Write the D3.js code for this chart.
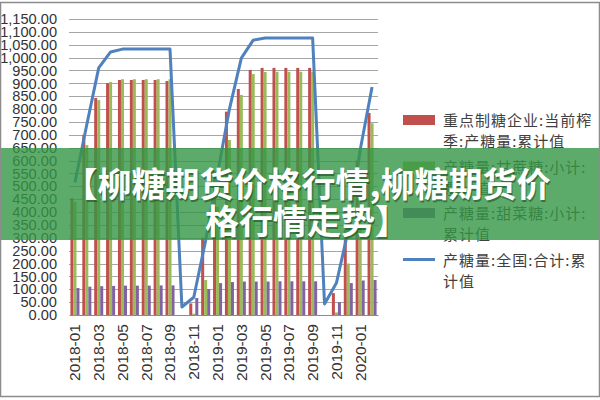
<!DOCTYPE html>
<html>
<head>
<meta charset="utf-8">
<script src="https://cdn.jsdelivr.net/npm/d3@7"></script>
<style>
    body { margin: 0; background: #fff; }
    svg { display: block; }
</style>
</head>
<body>
<div class="chart"></div>
<script>
// monthly cumulative sugar output, 万吨
let months = ['2018-01', '2018-02', '2018-03', '2018-04', '2018-05', '2018-06', '2018-07', '2018-08', '2018-09',
    '2018-10', '2018-11', '2018-12', '2019-01', '2019-02', '2019-03', '2019-04', '2019-05', '2019-06',
    '2019-07', '2019-08', '2019-09', '2019-10', '2019-11', '2019-12', '2020-01', '2020-02'];
let keyFirms = [454, 700, 843, 901, 913, 913, 913, 913, 909, null, 45, 300, 560, 790, 878, 952, 960, 960, 960, 960, 960, null, 85, 330, 600, 785];
let caneSugar = [440, 660, 835, 905, 916, 916, 916, 916, 916, null, 5, 136, 420, 680, 855, 936, 944, 945, 945, 945, 945, null, 10, 200, 500, 745];
let beetSugar = [105, 110, 112, 113, 114, 114, 114, 115, 115, null, 66, 101, 124, 128, 130, 130, 130, 131, 131, 131, 131, null, 50, 124, 134, 136];
let national = [515, 740, 960, 1022, 1033, 1033, 1033, 1033, 1033, 31, 69, 290, 550, 800, 998, 1068, 1076, 1076, 1076, 1076, 1076, 43, 124, 330, 641, 886];
let legendNames = [
    ['重点制糖企业:当前榨', '季:产糖量:累计值'],
    ['产糖量:甘蔗糖:小计:', '累计值'],
    ['产糖量:甜菜糖:小计:', '累计值'],
    ['产糖量:全国:合计:累', '计值']
];
let yTicks = d3.range(0, 1151, 50);
let xTickLabels = months.filter((d, i) => i % 2 === 0);
let bannerLines = ['【柳糖期货价格行情,柳糖期货价', '格行情走势】'];

let barColors = ['#C0504D', '#9BBB59', '#8064A2'];
let lineColor = '#4F81BD';

let svg = d3.select('.chart')
    .append('svg')
    .attr('width', 600)
    .attr('height', 400);

let margin = {top: 19, left: 69, right: 222, bottom: 85};
let width = 600 - margin.left - margin.right;
let plotBottom = 400 - margin.bottom;

let x = d3.scaleBand().domain(months).range([margin.left, margin.left + width])
    .paddingInner(0.24).paddingOuter(0.12);
let xs = d3.scaleBand().domain([0, 1, 2]).range([0, x.bandwidth()]);
let y = d3.scaleLinear().domain([0, 1150]).range([plotBottom, margin.top]);

// grid
svg.append('g')
    .selectAll('line')
    .data(yTicks.slice(1))
    .enter().append('line')
    .attr('x1', margin.left)
    .attr('x2', margin.left + width)
    .attr('y1', d => Math.round(y(d)) + 0.5)
    .attr('y2', d => Math.round(y(d)) + 0.5)
    .attr('stroke', '#a6a6a6')
    .attr('stroke-width', 1);

// y axis
let yAxis = svg.append('g')
    .attr('transform', 'translate(' + margin.left + ',0)')
    .call(d3.axisLeft(y).tickValues(yTicks).tickFormat(d3.format(',.2f')).tickSize(0).tickPadding(12));
yAxis.select('.domain').remove();
yAxis.selectAll('text')
    .style('font-family', '"Liberation Sans", Arial, sans-serif')
    .style('font-size', '14.6px')
    .attr('fill', '#333');

// bars
let barData = [];
[keyFirms, caneSugar, beetSugar].forEach((arr, s) => {
    arr.forEach((v, i) => {
        if (v !== null) barData.push({m: months[i], s: s, v: v});
    });
});
svg.append('g')
    .selectAll('.bar')
    .data(barData)
    .enter().append('rect')
    .attr('class', 'bar')
    .attr('x', d => x(d.m) + xs(d.s))
    .attr('width', xs.bandwidth())
    .attr('y', d => y(d.v))
    .attr('height', d => plotBottom - y(d.v))
    .attr('fill', d => barColors[d.s]);

// x axis
let xAxis = svg.append('g')
    .attr('transform', 'translate(0,' + plotBottom + ')')
    .call(d3.axisBottom(x).tickValues(xTickLabels).tickSize(0));
xAxis.select('.domain').attr('stroke', '#8c8c8c');
xAxis.selectAll('text')
    .attr('transform', 'rotate(-90)')
    .attr('x', -9)
    .attr('y', 0)
    .attr('dy', '0.35em')
    .style('text-anchor', 'end')
    .style('font-family', '"Liberation Sans", Arial, sans-serif')
    .style('font-size', '15.5px')
    .attr('fill', '#333');

// national total line
let line = d3.line()
    .x((d, i) => x(months[i]) + x.bandwidth() / 2)
    .y(d => y(d));
svg.append('path')
    .datum(national)
    .attr('d', line)
    .attr('fill', 'none')
    .attr('stroke', lineColor)
    .attr('stroke-width', 3)
    .attr('stroke-linejoin', 'round');

// legend
let legend = svg.append('g').attr('transform', 'translate(403,115)');
legendNames.forEach((lines, i) => {
    let g = legend.append('g').attr('transform', 'translate(0,' + (i * 46.5) + ')');
    if (i < 3) {
        g.append('rect').attr('x', 0).attr('y', 0).attr('width', 32).attr('height', 10).attr('fill', barColors[i]);
    } else {
        g.append('line').attr('x1', 0).attr('x2', 32).attr('y1', 5).attr('y2', 5)
            .attr('stroke', lineColor).attr('stroke-width', 3);
    }
    lines.forEach((t, j) => {
        g.append('text')
            .attr('x', 40)
            .attr('y', 11 + j * 21)
            .style('font-family', '"Noto Sans CJK SC", sans-serif')
            .style('font-size', '15px')
            .style('letter-spacing', '1px')
            .attr('fill', '#404040')
            .text(t);
    });
});

// banner
svg.append('rect')
    .attr('x', 0).attr('y', 148)
    .attr('width', 600).attr('height', 92)
    .attr('fill', 'rgb(52,150,69)')
    .attr('opacity', 0.8);
bannerLines.forEach((t, i) => {
    svg.append('text')
        .attr('x', 307).attr('y', 197 + i * 37)
        .attr('text-anchor', 'middle')
        .style('font-family', '"Noto Sans CJK SC", sans-serif')
        .style('font-size', '34px')
        .style('font-weight', 'bold')
        .attr('fill', '#1d4d22')
        .attr('opacity', 0.6)
        .attr('transform', 'translate(1,1.5)')
        .text(t);
    svg.append('text')
        .attr('x', 307).attr('y', 197 + i * 37)
        .attr('text-anchor', 'middle')
        .style('font-family', '"Noto Sans CJK SC", sans-serif')
        .style('font-size', '34px')
        .style('font-weight', 'bold')
        .attr('fill', '#fff')
        .text(t);
});

// frame
svg.append('rect')
    .attr('x', 0.5).attr('y', 2.5)
    .attr('width', 599).attr('height', 394)
    .attr('fill', 'none')
    .attr('stroke', '#8c8c8c')
    .attr('stroke-width', 1.5);
</script>
</body>
</html>
